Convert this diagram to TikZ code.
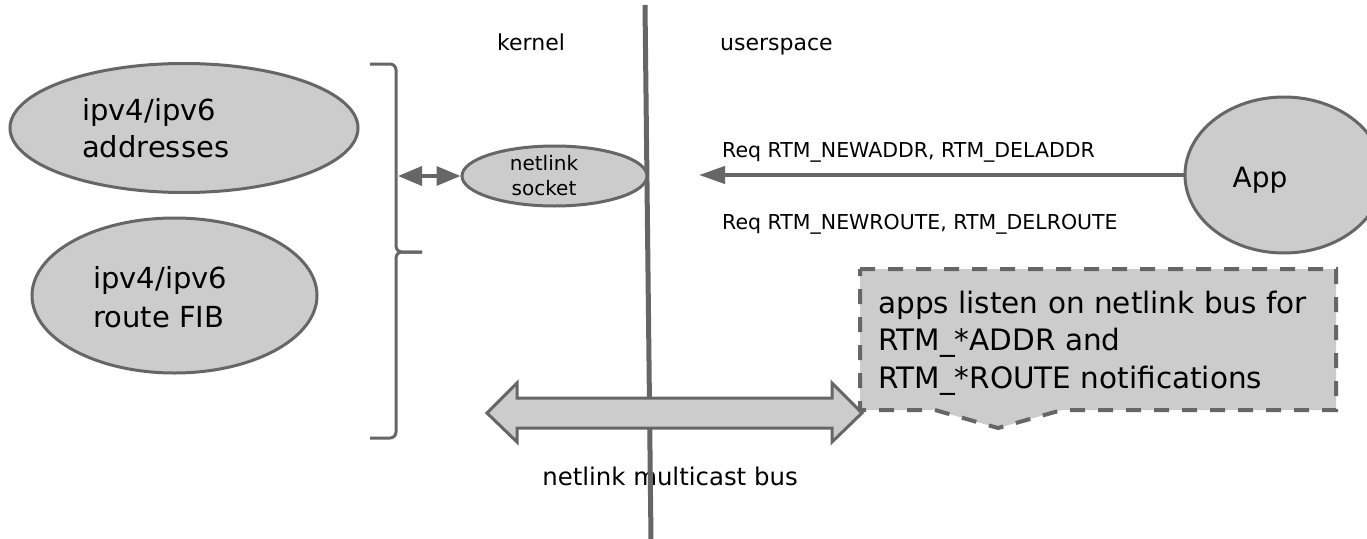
\documentclass[tikz,border=0pt]{standalone}
\usepackage{fontspec}
\setmainfont{DejaVu Sans}
\usetikzlibrary{arrows.meta,shapes.geometric}
\definecolor{lg}{HTML}{CCCCCC}
\definecolor{dg}{HTML}{666666}
\tikzset{
  blob/.style={ellipse, draw=dg, fill=lg, line width=3pt, inner sep=0pt},
  lbl/.style={inner sep=0pt, text=black, align=left},
  conn/.style={draw=dg, line width=3.5pt},
}
\newcommand{\fsz}[2]{\fontsize{#1}{#2}\selectfont}
\begin{document}
\begin{tikzpicture}[x=1pt,y=-1pt]
\useasboundingbox (0,0) rectangle (1367,538);
\clip (0,0) rectangle (1367,538);
\fill[white] (0,0) rectangle (1367,538);

% ellipses on the kernel side
\node[blob, minimum width=348pt, minimum height=129pt] (addr) at (184,128) {};
\node[blob, minimum width=285pt, minimum height=155pt] (fib) at (174.5,295.5) {};
\node[lbl, anchor=base west, font=\fsz{29}{37}] (addrtxt) at (82,157) {ipv4/ipv6\\addresses};
\node[lbl, anchor=base west, font=\fsz{29}{39}] (fibtxt) at (93,327) {ipv4/ipv6\\route FIB};

% headings
\node[lbl, anchor=base west, font=\fsz{22}{28}] (kernel) at (497,50) {kernel};
\node[lbl, anchor=base west, font=\fsz{22}{28}] (user) at (720,50) {userspace};

% bus label (under the divider line)
\node[lbl, anchor=base, font=\fsz{24.4}{30}] (bustxt) at (670,485) {netlink multicast bus};

% divider
\coordinate (vtop) at (645,5);
\coordinate (vbot) at (651,540);
\draw[dg, line width=5pt] (vtop) -- (vbot);

% bracket
\draw[dg, line width=3pt, rounded corners=6pt] (370,64) -- (396,64) -- (396,252) -- (422,252);
\draw[dg, line width=3pt, rounded corners=6pt] (422,252) -- (396,252) -- (396,438) -- (370,438);

% netlink socket
\node[blob, minimum width=185pt, minimum height=60pt] (sock) at (554.5,176) {};
\node[lbl, align=center, anchor=base, font=\fsz{20}{25}] (socktxt) at (544,195) {netlink\\socket};
\coordinate (brk) at (398,176);
\draw[conn, {Triangle[length=24pt,width=19pt]}-{Triangle[length=24pt,width=19pt]}] (brk) -- (sock.west);

% App
\node[blob, minimum width=198pt, minimum height=156pt] (app) at (1284,175) {};
\node[lbl, anchor=base, font=\fsz{28}{34}] (apptxt) at (1260,187) {App};
\coordinate (reqend) at (699,175);
\draw[dg, line width=4pt, -{Triangle[length=26pt,width=17pt]}] (app.west) -- (reqend);
\node[lbl, anchor=base west, font=\fsz{20.5}{24}] (req1) at (722,157) {Req RTM\_NEWADDR, RTM\_DELADDR};
\node[lbl, anchor=base west, font=\fsz{20.5}{24}] (req2) at (722,229) {Req RTM\_NEWROUTE, RTM\_DELROUTE};

% bus arrow
\draw[dg, fill=lg, line width=3pt, line join=miter] (487,413) -- (517,383) -- (517,398) -- (832,398) -- (832,383) -- (862,413) -- (832,442) -- (832,428) -- (517,428) -- (517,442) -- cycle;

% callout
\draw[dg, fill=lg, line width=4pt, dash pattern=on 15pt off 13pt] (860,269) -- (1336,269) -- (1336,410) -- (1062,410) -- (998,428) -- (935,410) -- (860,410) -- cycle;
\node[lbl, anchor=base west, font=\fsz{29.5}{37.5}] (note) at (878,388) {apps listen on netlink bus for\\RTM\_*ADDR and\\RTM\_*ROUTE notifications};
\end{tikzpicture}
\end{document}
